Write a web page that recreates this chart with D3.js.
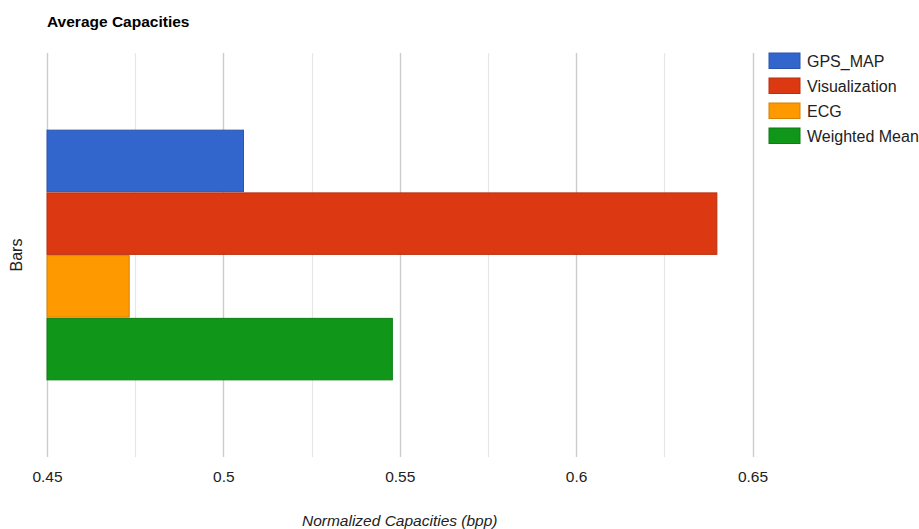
<!DOCTYPE html>
<html>
<head>
<meta charset="utf-8">
<script src="https://cdn.jsdelivr.net/npm/d3@7"></script>
<style>
  html, body { margin: 0; padding: 0; background: #fff; }
  svg { display: block; font-family: "Liberation Sans", Arial, sans-serif; }
</style>
</head>
<body>
<svg id="chart" width="919" height="529"></svg>
<script>
// ---- data ----
const categories = ["Bars"];
const seriesNames = ["GPS_MAP", "Visualization", "ECG", "Weighted Mean"];
const seriesValues = [0.5057, 0.6399, 0.4733, 0.5479];
const seriesColors = ["#3366cc", "#dc3912", "#ff9900", "#109618"];
const majorTicks = [0.45, 0.5, 0.55, 0.6, 0.65];
const minorTicks = [0.475, 0.525, 0.575, 0.625];
const titleText = "Average Capacities";
const xTitle = "Normalized Capacities (bpp)";
const yTitle = "Bars";

// ---- layout ----
const svg = d3.select("#chart");
const plot = { left: 47, right: 752.5, top: 53, bottom: 457 };

const x = d3.scaleLinear().domain([0.45, 0.65]).range([plot.left, plot.right]);
const y = d3.scaleBand().domain(categories).range([plot.top, plot.bottom])
  .paddingInner(0).paddingOuter(0.309);
const ySeries = d3.scaleBand().domain(seriesNames).range([0, y.bandwidth()]).paddingInner(0.02);

// title
svg.append("text").attr("x", 47).attr("y", 27)
  .attr("font-size", 15.5).attr("font-weight", "bold").attr("fill", "#000")
  .text(titleText);

// gridlines
svg.append("g").selectAll("line").data(minorTicks).join("line")
  .attr("x1", d => Math.round(x(d)) + 0.5).attr("x2", d => Math.round(x(d)) + 0.5)
  .attr("y1", plot.top).attr("y2", plot.bottom)
  .attr("stroke", "#e6e6e6").attr("stroke-width", 1.2);
svg.append("g").selectAll("line").data(majorTicks).join("line")
  .attr("x1", d => Math.round(x(d)) + 0.5).attr("x2", d => Math.round(x(d)) + 0.5)
  .attr("y1", plot.top).attr("y2", plot.bottom)
  .attr("stroke", "#cccccc").attr("stroke-width", 1.4);

// x axis labels via d3 axis
const xAxis = d3.axisBottom(x).tickValues(majorTicks).tickFormat(d3.format("")).tickSize(0).tickPadding(0);
const gx = svg.append("g").attr("transform", `translate(0, ${plot.bottom})`).call(xAxis);
gx.select(".domain").remove();
gx.selectAll("text").attr("font-size", 15.5).attr("fill", "#222")
  .attr("font-family", "'Liberation Sans', Arial, sans-serif")
  .attr("dy", 0).attr("y", 25);

// bars
const darker = c => d3.color(c).darker(0.5).formatHex();
svg.append("g").selectAll("rect").data(seriesNames).join("rect")
  .attr("x", x(0.45))
  .attr("y", (d) => y(categories[0]) + ySeries(d))
  .attr("width", (d, i) => x(seriesValues[i]) - x(0.45))
  .attr("height", ySeries.bandwidth())
  .attr("fill", (d, i) => seriesColors[i])
  .attr("stroke", (d, i) => darker(seriesColors[i]))
  .attr("stroke-width", 1);

// axis titles
svg.append("text").attr("x", (plot.left + plot.right) / 2).attr("y", 526)
  .attr("text-anchor", "middle").attr("font-size", 15.5).attr("font-style", "italic")
  .attr("fill", "#222").text(xTitle);
svg.append("text").attr("transform", `translate(22, ${(plot.top + plot.bottom) / 2}) rotate(-90)`)
  .attr("text-anchor", "middle").attr("font-size", 16).attr("fill", "#222").text(yTitle);

// legend
const legend = svg.append("g").attr("transform", "translate(769, 53)");
const items = legend.selectAll("g").data(seriesNames).join("g")
  .attr("transform", (d, i) => `translate(0, ${i * 25})`);
items.append("rect").attr("width", 31).attr("height", 15.5)
  .attr("fill", (d, i) => seriesColors[i])
  .attr("stroke", (d, i) => darker(seriesColors[i])).attr("stroke-width", 1);
items.append("text").attr("x", 38).attr("y", 13.5)
  .attr("font-size", 16).attr("fill", "#222").text(d => d);
</script>
</body>
</html>
